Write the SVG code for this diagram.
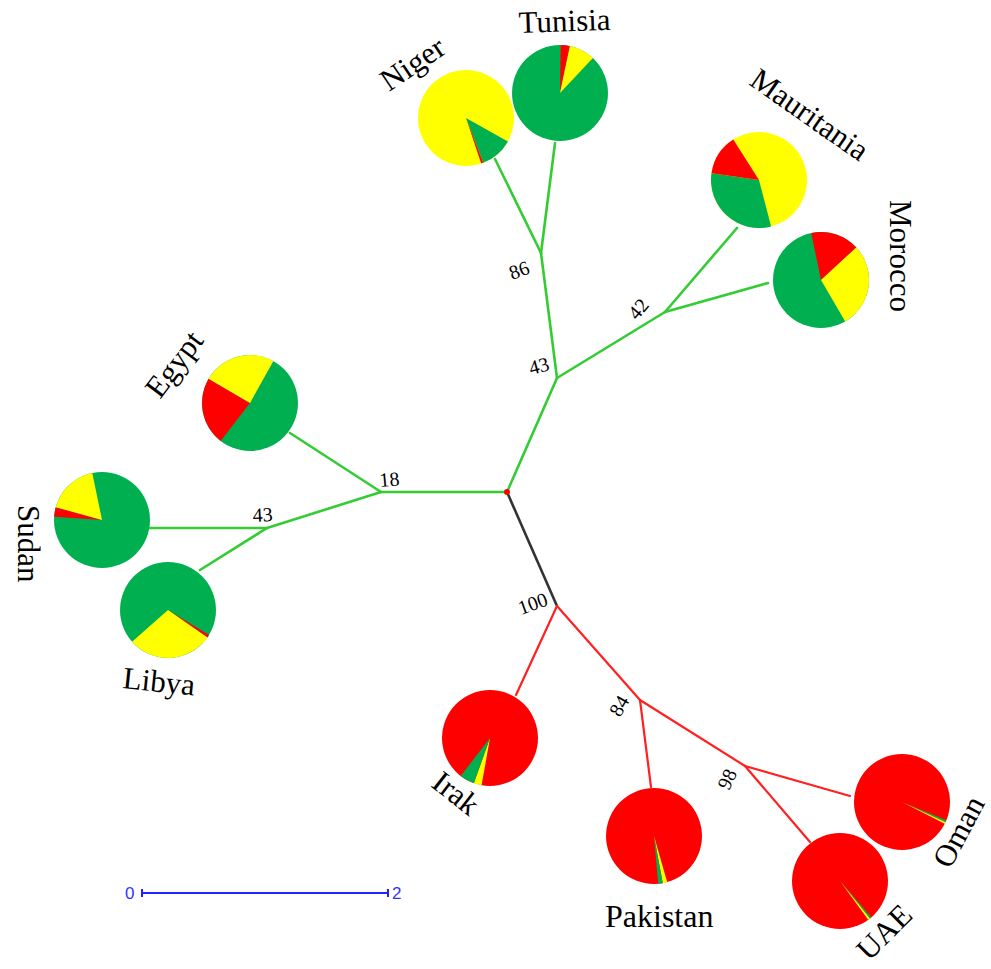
<svg xmlns="http://www.w3.org/2000/svg" width="991" height="969" viewBox="0 0 991 969">
<style>
.g{fill:#00b050}.y{fill:#ffff00}.r{fill:#ff0000}
.lab{font-family:"Liberation Serif","Times New Roman",serif;font-size:31px;fill:#000}
.bs{font-family:"Liberation Serif","Times New Roman",serif;font-size:20px;fill:#000}
.eg{stroke:#33cc33;stroke-width:2.6;fill:none;stroke-linecap:round}
.er{stroke:#ff2020;stroke-width:2.2;fill:none;stroke-linecap:round}
.ek{stroke:#333;stroke-width:2.6;fill:none}
.sc{font-family:"Liberation Sans",Arial,sans-serif;font-size:17px;fill:#3333ff}
</style>
<rect width="991" height="969" fill="#fff"/>
<g id="connectors">
<line class="eg" x1="507" y1="492" x2="381" y2="492"/>
<line class="eg" x1="381" y1="492" x2="290" y2="433"/>
<line class="eg" x1="381" y1="492" x2="267" y2="528"/>
<line class="eg" x1="267" y1="528" x2="150" y2="528"/>
<line class="eg" x1="267" y1="528" x2="200" y2="570"/>
<line class="eg" x1="507" y1="492" x2="557" y2="378"/>
<line class="eg" x1="557" y1="378" x2="541" y2="253"/>
<line class="eg" x1="541" y1="253" x2="495" y2="159"/>
<line class="eg" x1="541" y1="253" x2="555" y2="143"/>
<line class="eg" x1="557" y1="378" x2="665" y2="312"/>
<line class="eg" x1="665" y1="312" x2="737" y2="228"/>
<line class="eg" x1="665" y1="312" x2="768" y2="283"/>
<line class="ek" x1="507" y1="492" x2="557" y2="606"/>
<line class="er" x1="557" y1="606" x2="516" y2="695"/>
<line class="er" x1="557" y1="606" x2="640" y2="700"/>
<line class="er" x1="640" y1="700" x2="651" y2="787"/>
<line class="er" x1="640" y1="700" x2="745" y2="766"/>
<line class="er" x1="745" y1="766" x2="850" y2="796"/>
<line class="er" x1="745" y1="766" x2="810" y2="842"/>
<circle cx="507" cy="492" r="3" fill="#ff0000"/>
</g>
<g id="support">
<text class="bs" transform="translate(380,487) rotate(-5)">18</text>
<text class="bs" transform="translate(253,522) rotate(-3)">43</text>
<text class="bs" transform="translate(512,280) rotate(-20)">86</text>
<text class="bs" transform="translate(531,375) rotate(-15)">43</text>
<text class="bs" transform="translate(637,321) rotate(-50)">42</text>
<text class="bs" transform="translate(521,615) rotate(-20)">100</text>
<text class="bs" transform="translate(620,718) rotate(-60)">84</text>
<text class="bs" transform="translate(729,791) rotate(-65)">98</text>
</g>
<g id="Egypt">
<circle class="g" cx="250" cy="403" r="48"/>
<path class="r" d="M250,403 L220.65,440.98 A48,48 0 0 1 208.56,378.78 Z"/>
<path class="y" d="M250,403 L208.56,378.78 A48,48 0 0 1 273.42,361.10 Z"/>
<text class="lab" transform="translate(160,400) rotate(-53)">Egypt</text>
</g>
<g id="Sudan">
<circle class="g" cx="102" cy="520" r="48"/>
<path class="r" d="M102,520 L54.12,516.65 A48,48 0 0 1 55.75,507.17 Z"/>
<path class="y" d="M102,520 L55.75,507.17 A48,48 0 0 1 92.27,473.00 Z"/>
<text class="lab" transform="translate(18,505) rotate(90)">Sudan</text>
</g>
<g id="Libya">
<circle class="g" cx="168" cy="610" r="48"/>
<path class="r" d="M168,610 L209.02,634.94 A48,48 0 0 1 207.41,637.39 Z"/>
<path class="y" d="M168,610 L207.41,637.39 A48,48 0 0 1 132.05,641.80 Z"/>
<text class="lab" transform="translate(122,688) rotate(6)">Libya</text>
</g>
<g id="Niger">
<circle class="y" cx="466" cy="118" r="48"/>
<path class="g" d="M466,118 L507.90,141.42 A48,48 0 0 1 483.20,162.81 Z"/>
<path class="r" d="M466,118 L483.20,162.81 A48,48 0 0 1 481.23,163.52 Z"/>
<text class="lab" transform="translate(389,92) rotate(-34)">Niger</text>
</g>
<g id="Tunisia">
<circle class="g" cx="560" cy="93" r="48"/>
<path class="r" d="M560,93 L560.67,45.00 A48,48 0 0 1 569.90,46.03 Z"/>
<path class="y" d="M560,93 L569.90,46.03 A48,48 0 0 1 592.92,58.07 Z"/>
<text class="lab" transform="translate(519,33) rotate(-2)">Tunisia</text>
</g>
<g id="Mauritania">
<circle class="y" cx="759" cy="180" r="48"/>
<path class="g" d="M759,180 L771.10,226.45 A48,48 0 0 1 711.47,173.32 Z"/>
<path class="r" d="M759,180 L711.47,173.32 A48,48 0 0 1 733.28,139.47 Z"/>
<text class="lab" transform="translate(748,84) rotate(35)">Mauritania</text>
</g>
<g id="Morocco">
<circle class="g" cx="821" cy="280" r="48"/>
<path class="r" d="M821,280 L811.18,233.01 A48,48 0 0 1 856.28,247.45 Z"/>
<path class="y" d="M821,280 L856.28,247.45 A48,48 0 0 1 845.22,321.44 Z"/>
<text class="lab" transform="translate(890,200) rotate(90)">Morocco</text>
</g>
<g id="Irak">
<circle class="r" cx="490" cy="738" r="48"/>
<path class="y" d="M490,738 L481.58,785.26 A48,48 0 0 1 473.82,783.19 Z"/>
<path class="g" d="M490,738 L473.82,783.19 A48,48 0 0 1 460.65,775.98 Z"/>
<text class="lab" transform="translate(430,786) rotate(38)">Irak</text>
</g>
<g id="Pakistan">
<circle class="r" cx="654" cy="836" r="48"/>
<path class="y" d="M654,836 L667.23,882.14 A48,48 0 0 1 662.75,883.20 Z"/>
<path class="g" d="M654,836 L662.75,883.20 A48,48 0 0 1 658.18,883.82 Z"/>
<text class="lab" transform="translate(605,927)" style="font-size:32px">Pakistan</text>
</g>
<g id="Oman">
<circle class="r" cx="902" cy="802" r="48"/>
<path class="g" d="M902,802 L946.35,820.37 A48,48 0 0 1 945.57,822.13 Z"/>
<path class="y" d="M902,802 L945.57,822.13 A48,48 0 0 1 944.77,823.79 Z"/>
<text class="lab" transform="translate(950,870) rotate(-62)">Oman</text>
</g>
<g id="UAE">
<circle class="r" cx="840" cy="881" r="48"/>
<path class="g" d="M840,881 L871.49,917.23 A48,48 0 0 1 869.88,918.56 Z"/>
<path class="y" d="M840,881 L869.88,918.56 A48,48 0 0 1 868.21,919.83 Z"/>
<text class="lab" transform="translate(869,962) rotate(-45)">UAE</text>
</g>
<g id="scale">
<line x1="142" y1="893" x2="388" y2="893" stroke="#2222ff" stroke-width="2"/>
<line x1="142" y1="889" x2="142" y2="897" stroke="#2222ff" stroke-width="2"/>
<line x1="388" y1="889" x2="388" y2="897" stroke="#2222ff" stroke-width="2"/>
<text class="sc" x="125" y="899">0</text>
<text class="sc" x="392" y="899">2</text>
</g>
</svg>
